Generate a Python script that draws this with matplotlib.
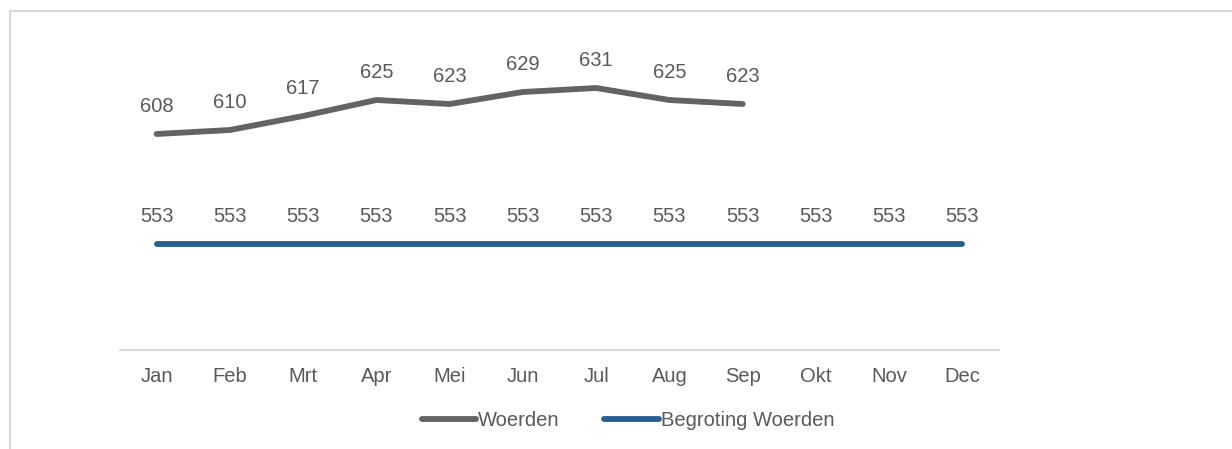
import matplotlib
matplotlib.use("Agg")
import matplotlib.pyplot as plt
from matplotlib.patches import Rectangle

months = ["Jan", "Feb", "Mrt", "Apr", "Mei", "Jun", "Jul", "Aug", "Sep", "Okt", "Nov", "Dec"]
woerden = [608, 610, 617, 625, 623, 629, 631, 625, 623]
begroting = [553] * 12

plt.rcParams['font.family'] = ['Liberation Sans', 'DejaVu Sans']
txt = '#595959'
fs = 14.5

fig = plt.figure(figsize=(12.32, 4.49), dpi=100)
ax = fig.add_axes([120/1232, 1-350/449, 879/1232, 300/449])

x_w = list(range(len(woerden)))
x_b = list(range(len(begroting)))
l1, = ax.plot(x_w, woerden, color='#636363', lw=4.2, solid_capstyle='round', solid_joinstyle='round', label='Woerden')
l2, = ax.plot(x_b, begroting, color='#255E91', lw=4.2, solid_capstyle='round', label='Begroting Woerden')

for xi, v in zip(x_w, woerden):
    ax.annotate(str(v), (xi, v), xytext=(0, 20), textcoords='offset points', ha='center', va='center', fontsize=fs, color=txt)
for xi, v in zip(x_b, begroting):
    ax.annotate(str(v), (xi, v), xytext=(0, 20), textcoords='offset points', ha='center', va='center', fontsize=fs, color=txt)

ax.set_xlim(-0.5, 11.5)
ax.set_ylim(500, 650)
ax.set_xticks(range(12))
ax.set_xticklabels(months, fontsize=fs, color=txt)
ax.set_yticks([])
ax.tick_params(axis='x', length=0, pad=12.5)
for s in ['top', 'right', 'left']:
    ax.spines[s].set_visible(False)
ax.spines['bottom'].set_color('#D9D9D9')
ax.spines['bottom'].set_linewidth(1.5)

leg = fig.legend(handles=[l1, l2], loc='center', bbox_to_anchor=(628/1232, 1-420.5/449), ncol=2,
                 frameon=False, fontsize=fs, handlelength=2.7, handletextpad=0.1, columnspacing=2.2)
for t in leg.get_texts():
    t.set_color(txt)

fig.patches.append(Rectangle((10/1232, -0.1), 1.2, 1-11/449+0.1, transform=fig.transFigure,
                             fill=False, edgecolor='#D9D9D9', lw=1.5, clip_on=False))

fig.savefig('out.png', dpi=100)
